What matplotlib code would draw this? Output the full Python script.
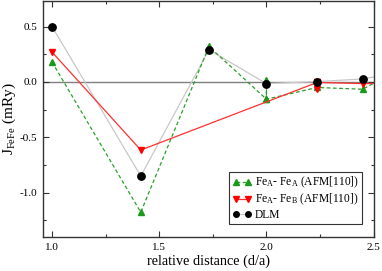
import matplotlib
matplotlib.use("Agg")
import matplotlib.pyplot as plt
from matplotlib.ticker import MultipleLocator

plt.rcParams['font.family'] = ['Liberation Serif', 'DejaVu Serif']
plt.rcParams['mathtext.fontset'] = 'custom'
plt.rcParams['mathtext.rm'] = 'Liberation Serif'
plt.rcParams['mathtext.it'] = 'Liberation Serif:italic'

# Fe_A - Fe_A (AFM[110])
aa_x = [1.0, 1.414, 1.732, 2.0, 2.0, 2.0, 2.236, 2.449, 2.646]
aa_y = [0.18, -1.177, 0.32, -0.156, 0.015, -0.156, -0.05, -0.066, 0.14]
# Fe_A - Fe_B (AFM[110])
ab_x = [1.0, 1.414, 2.236, 2.236, 2.236, 2.449, 2.646]
ab_y = [0.27, -0.615, -0.005, -0.06, -0.005, -0.015, -0.01]
# DLM
dlm_x = [1.0, 1.414, 1.732, 2.0, 2.236, 2.449, 2.646]
dlm_y = [0.50, -0.85, 0.29, -0.015, 0.003, 0.027, 0.096]

xticks = [1.0, 1.5, 2.0, 2.5]
yticks = [-1.0, -0.5, 0.0, 0.5]

fig = plt.figure(figsize=(3.82, 2.71), dpi=100)
ax = fig.add_axes([0.1126, 0.1255, 0.8655, 0.8705])

ax.axhline(0.0, color='#7f7f7f', lw=1.0, zorder=1)

ax.plot(dlm_x, dlm_y, color='#c8c8c8', lw=0.9, zorder=2)
ax.plot(aa_x, aa_y, color='#2ca02c', lw=0.9, ls=(0, (3, 2)), zorder=3,
        marker='^', ms=5, mfc='#1a9a1a', mec='#1a9a1a')
ax.plot(ab_x, ab_y, color='#ff3030', lw=0.9, zorder=4,
        marker='v', ms=5, mfc='#ff0000', mec='#ff0000')
ax.plot(dlm_x, dlm_y, ls='none', marker='o', ms=5.3, color='black', zorder=5)

# legend handles
h1, = ax.plot([], [], color='#2ca02c', lw=0.9, ls=(0, (3, 2)),
              marker='^', ms=4, mfc='#1a9a1a', mec='#1a9a1a')
h2, = ax.plot([], [], color='#ff3030', lw=0.9,
              marker='v', ms=4, mfc='#ff0000', mec='#ff0000')
h3, = ax.plot([], [], color='#c8c8c8', lw=0.9,
              marker='o', ms=4, mfc='black', mec='black')
leg = ax.legend([h1, h2, h3],
                [r'Fe$_{\rm A}$- Fe$_{\rm A}$ (AFM[110])',
                 r'Fe$_{\rm A}$- Fe$_{\rm B}$ (AFM[110])',
                 'DLM'],
                loc='lower right', bbox_to_anchor=(0.975, 0.04),
                numpoints=2, handlelength=1.6, handletextpad=0.3,
                fontsize=8.3, frameon=True, fancybox=False,
                borderpad=0.3, labelspacing=0.12, borderaxespad=0.3)
leg.get_frame().set_edgecolor('black')
leg.get_frame().set_linewidth(0.8)

ax.set_xlim(0.958, 2.5)
ax.set_ylim(-1.4, 0.73)
ax.set_xticks(xticks)
ax.set_yticks(yticks)
ax.set_xticklabels([f'{v:.1f}' for v in xticks])
ax.set_yticklabels([f'{v:.1f}' for v in yticks])
ax.xaxis.set_minor_locator(MultipleLocator(0.25))
ax.yaxis.set_minor_locator(MultipleLocator(0.25))
ax.tick_params(which='both', direction='in', top=True, right=True,
               labelsize=8, colors='#333333', labelcolor='black')
ax.tick_params(which='major', length=4, width=0.8, pad=4)
ax.tick_params(which='minor', length=2, width=0.8)
for s in ax.spines.values():
    s.set_linewidth(1.0)
    s.set_color('#333333')

ax.set_xlabel('relative distance (d/a)', fontsize=10.3, labelpad=2)
ax.set_ylabel(r'J$_{\rm FeFe}$ (mRy)', fontsize=11, labelpad=1)

fig.savefig('out.png', dpi=100)
